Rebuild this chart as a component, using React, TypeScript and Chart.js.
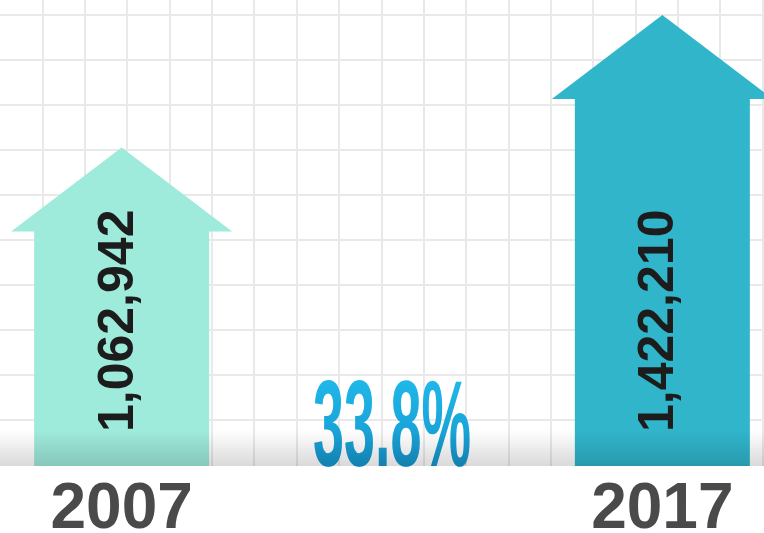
import React, { useEffect, useRef } from 'react';
import { Chart, registerables } from 'chart.js';

Chart.register(...registerables);

// ---- data ----
const years = [2007, 2017];
const visitors = [1062942, 1422210];
const yearTicks = [2007, 2017];
const barColors = ['#9eeadb', '#30b5cb'];

// ---- axis ranges ----
const X_MIN = 2004.75;
const X_MAX = 2018.88;
const Y_MIN = 200000;
const Y_MAX = 1462860;

// background grid (decoration) in pixel units
const GRID_STEP = 45;
const GRID_W = 764;
const GRID_H = 466;
const GRID_X0 = 44;
const GRID_Y0 = 15;

const FONT = '"Liberation Sans", Arial, Helvetica, sans-serif';

const arrowPlugin = {
  id: 'arrowBars',
  beforeDatasetsDraw(chart: any) {
    const ctx = chart.ctx as CanvasRenderingContext2D;
    const meta = chart.getDatasetMeta(0);
    const area = chart.chartArea;
    const els = meta.data.map((el: any) => el.getProps(['x', 'y', 'base', 'width'], true));
    ctx.save();
    els.forEach((p: any, i: number) => {
      const { x, y, width } = p;
      const base = area.bottom;
      const half = width / 2;
      const wing = 23;
      const head = 84;
      ctx.beginPath();
      ctx.moveTo(x - half, base);
      ctx.lineTo(x - half, y + head);
      ctx.lineTo(x - half - wing, y + head);
      ctx.lineTo(x, y);
      ctx.lineTo(x + half + wing, y + head);
      ctx.lineTo(x + half, y + head);
      ctx.lineTo(x + half, base);
      ctx.closePath();
      ctx.fillStyle = barColors[i];
      ctx.fill();

      ctx.save();
      ctx.translate(x + 11, base - 34);
      ctx.rotate(-Math.PI / 2);
      ctx.font = `bold 50px ${FONT}`;
      ctx.fillStyle = '#1c1c1c';
      ctx.textAlign = 'left';
      ctx.textBaseline = 'alphabetic';
      ctx.fillText(visitors[i].toLocaleString('en-US'), 0, 0);
      ctx.restore();
    });

    // growth percentage
    if (els.length === 2) {
      const pct = ((visitors[1] - visitors[0]) / visitors[0]) * 100;
      const label = pct.toFixed(1) + '%';
      const midX = (els[0].x + els[1].x) / 2;
      const base = area.bottom;
      ctx.save();
      ctx.font = `bold 123px ${FONT}`;
      const w = ctx.measureText(label).width;
      ctx.translate(midX, base);
      ctx.scale(158 / w, 1);
      const g = ctx.createLinearGradient(0, -88, 0, 0);
      g.addColorStop(0, '#20b8ea');
      g.addColorStop(1, '#1597cd');
      ctx.fillStyle = g;
      ctx.textAlign = 'center';
      ctx.textBaseline = 'alphabetic';
      ctx.fillText(label, 0, 0);
      ctx.restore();
    }

    // floor shadow
    const sh = ctx.createLinearGradient(0, area.bottom - 36, 0, area.bottom);
    sh.addColorStop(0, 'rgba(0,0,0,0)');
    sh.addColorStop(1, 'rgba(0,0,0,0.15)');
    ctx.fillStyle = sh;
    ctx.fillRect(area.left, area.bottom - 36, area.right - area.left, 36);
    ctx.restore();
    return false;
  },
};

export default function App() {
  const ref = useRef<HTMLCanvasElement | null>(null);
  useEffect(() => {
    if (!ref.current) return;
    const chart = new Chart(ref.current, {
      type: 'bar',
      data: {
        datasets: [
          {
            data: years.map((x, i) => ({ x, y: visitors[i] })),
            backgroundColor: barColors,
            barThickness: 175,
            base: Y_MIN,
          },
        ],
      },
      options: {
        animation: false,
        responsive: false,
        layout: { padding: 0 },
        plugins: { legend: { display: false }, tooltip: { enabled: false } },
        scales: {
          x: {
            type: 'linear',
            position: 'bottom',
            offset: false,
            min: X_MIN,
            max: X_MAX,
            grid: { display: false, drawTicks: false, offset: false },
            border: { display: false },
            afterBuildTicks: (s: any) => {
              s.ticks = yearTicks.map((v) => ({ value: v }));
            },
            afterFit: (s: any) => {
              s.height = 67;
            },
            ticks: {
              autoSkip: false,
              maxRotation: 0,
              padding: 6,
              color: '#4a4a4a',
              font: { family: FONT, size: 64, weight: 'bold' },
              callback: (v: any) => String(v),
            },
          },
          y: {
            type: 'linear',
            min: Y_MIN,
            max: Y_MAX,
            display: false,
          },
          gx: {
            type: 'linear',
            position: 'top',
            min: 0,
            max: GRID_W,
            grid: { color: '#e9e9e9', lineWidth: 2, drawTicks: false },
            border: { display: false },
            ticks: { display: false },
            afterBuildTicks: (s: any) => {
              const t = [];
              for (let v = GRID_X0; v <= GRID_W; v += GRID_STEP) t.push({ value: v });
              s.ticks = t;
            },
            afterFit: (s: any) => {
              s.height = 0;
            },
          },
          gy: {
            type: 'linear',
            position: 'left',
            min: 0,
            max: GRID_H,
            grid: { color: '#e9e9e9', lineWidth: 2, drawTicks: false },
            border: { display: false },
            ticks: { display: false },
            afterBuildTicks: (s: any) => {
              const t = [];
              for (let p = GRID_Y0; p < GRID_H - 10; p += GRID_STEP) t.push({ value: GRID_H - p });
              s.ticks = t;
            },
            afterFit: (s: any) => {
              s.width = 0;
            },
          },
        },
      } as any,
      plugins: [arrowPlugin],
    });
    return () => chart.destroy();
  }, []);

  return (
    <div style={{ position: 'fixed', left: 0, top: 0, width: 764, height: 533, background: '#ffffff' }}>
      <canvas ref={ref} width={764} height={533} style={{ display: 'block' }} />
    </div>
  );
}
